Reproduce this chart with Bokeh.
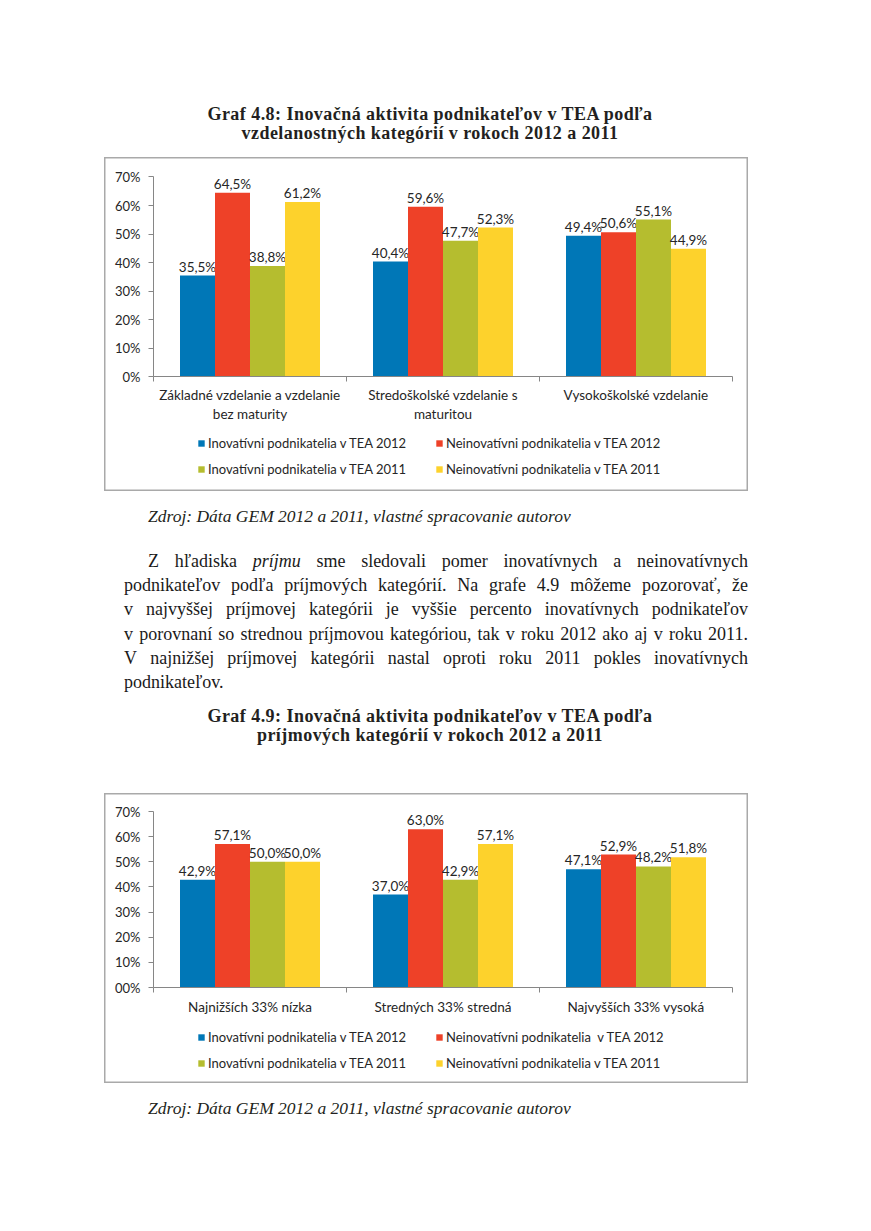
from bokeh.plotting import figure
from bokeh.models import (Range1d, LinearAxis, FixedTicker, Legend, LegendItem,
                          ColumnDataSource, Div)
from bokeh.layouts import column
from bokeh.embed import file_html
from bokeh.resources import INLINE
from bokeh.core.properties import value

# ---------------- data ----------------
series_names_1 = ["Inovatívni podnikatelia v TEA 2012",
                  "Neinovatívni podnikatelia v TEA 2012",
                  "Inovatívni podnikatelia v TEA 2011",
                  "Neinovatívni podnikatelia v TEA 2011"]
series_names_2 = ["Inovatívni podnikatelia v TEA 2012",
                  "Neinovatívni podnikatelia  v TEA 2012",
                  "Inovatívni podnikatelia v TEA 2011",
                  "Neinovatívni podnikatelia v TEA 2011"]
series_colors = ["#0077b7", "#ee4128", "#b5bd2f", "#fdd22c"]

edu_categories = ["Základné vzdelanie a vzdelanie\nbez maturity",
                  "Stredoškolské vzdelanie s\nmaturitou",
                  "Vysokoškolské vzdelanie"]
edu_inov_2012 = [35.5, 40.4, 49.4]
edu_neinov_2012 = [64.5, 59.6, 50.6]
edu_inov_2011 = [38.8, 47.7, 55.1]
edu_neinov_2011 = [61.2, 52.3, 44.9]

inc_categories = ["Najnižších 33% nízka", "Stredných 33% stredná", "Najvyšších 33% vysoká"]
inc_inov_2012 = [42.9, 37.0, 47.1]
inc_neinov_2012 = [57.1, 63.0, 52.9]
inc_inov_2011 = [50.0, 42.9, 48.2]
inc_neinov_2011 = [50.0, 57.1, 51.8]

y_ticks = [0, 10, 20, 30, 40, 50, 60, 70]
y_tick_labels_1 = ["0%", "10%", "20%", "30%", "40%", "50%", "60%", "70%"]
y_tick_labels_2 = ["00%", "10%", "20%", "30%", "40%", "50%", "60%", "70%"]

title_1 = ["Graf 4.8: Inovačná aktivita podnikateľov v TEA podľa",
           "vzdelanostných kategórií v rokoch 2012 a 2011"]
title_2 = ["Graf 4.9: Inovačná aktivita podnikateľov v TEA podľa",
           "príjmových kategórií v rokoch 2012 a 2011"]
source_text = "Zdroj: Dáta GEM 2012 a 2011, vlastné spracovanie autorov"
paragraph_lines = [
    "Z hľadiska <i>príjmu</i> sme sledovali pomer inovatívnych a neinovatívnych",
    "podnikateľov podľa príjmových kategórií. Na grafe 4.9 môžeme pozorovať, že",
    "v najvyššej príjmovej kategórii je vyššie percento inovatívnych podnikateľov",
    "v porovnaní so strednou príjmovou kategóriou, tak v roku 2012 ako aj v roku 2011.",
    "V najnižšej príjmovej kategórii nastal oproti roku 2011 pokles inovatívnych",
    "podnikateľov.",
]

CHART_FONT = "Lato"
TEXT_COLOR = "#262626"
AXIS_COLOR = "#868686"


def make_chart(cats, series_vals, names, height, y_lo, y_hi, tick_labels,
               legend_bottom, label_standoff):
    W = 644
    cat_px = 193.0
    left_px = 49.0
    right_px = 16.0
    n = len(cats)
    p = figure(width=W, height=height,
               x_range=Range1d(-left_px / cat_px, n + right_px / cat_px),
               y_range=Range1d(y_lo, y_hi),
               x_axis_type=None, y_axis_type=None,
               toolbar_location=None, output_backend="svg",
               min_border=0, outline_line_color="#a9a9a9", outline_line_width=2,
               background_fill_color="white", border_fill_color="white",
               margin=(0, 0, 0, 96))
    bar_w = 35.0 / cat_px
    offsets = [-1.5, -0.5, 0.5, 1.5]
    centers = [i + 0.5 for i in range(n)]
    renderers = []
    for k, (vals, col) in enumerate(zip(series_vals, series_colors)):
        xs = [c + offsets[k] * bar_w for c in centers]
        labels = [("%.1f" % v).replace(".", ",") + "%" for v in vals]
        src = ColumnDataSource(dict(x=xs, top=vals, label=labels))
        r = p.vbar(x="x", top="top", bottom=0, width=bar_w, source=src,
                   fill_color=col, line_color=None)
        p.text(x="x", y="top", text="label", source=src, text_align="center",
               text_baseline="alphabetic", y_offset=-9,
               text_font=value(CHART_FONT), text_font_size="13.5px",
               text_color=TEXT_COLOR)
        renderers.append(r)

    yax = LinearAxis(fixed_location=0,
                     ticker=FixedTicker(ticks=y_ticks, minor_ticks=[]),
                     bounds=(0, 70),
                     major_label_overrides={t: l for t, l in zip(y_ticks, tick_labels)},
                     major_tick_out=5, major_tick_in=0,
                     minor_tick_line_color=None,
                     axis_line_color=AXIS_COLOR, major_tick_line_color=AXIS_COLOR,
                     major_label_standoff=8,
                     major_label_text_font=CHART_FONT,
                     major_label_text_font_size="13px",
                     major_label_text_color=TEXT_COLOR)
    p.add_layout(yax, "left")

    xax = LinearAxis(fixed_location=0,
                     ticker=FixedTicker(ticks=centers, minor_ticks=list(range(n + 1))),
                     bounds=(0, n),
                     major_label_overrides={c: lab for c, lab in zip(centers, cats)},
                     major_tick_out=0, major_tick_in=0, major_tick_line_color=None,
                     minor_tick_out=5, minor_tick_in=0, minor_tick_line_color=AXIS_COLOR,
                     axis_line_color=AXIS_COLOR,
                     major_label_standoff=label_standoff,
                     major_label_text_font=CHART_FONT,
                     major_label_text_font_size="13.5px",
                     major_label_text_line_height=1.2,
                     major_label_text_color=TEXT_COLOR)
    p.add_layout(xax, "below")

    legend = Legend(items=[LegendItem(label=nm, renderers=[r]) for nm, r in zip(names, renderers)],
                    orientation="horizontal", ncols=2,
                    location=(93, legend_bottom),
                    glyph_width=8, glyph_height=8, label_standoff=3,
                    label_width=217, label_height=16, spacing=10,
                    padding=0, margin=0, border_line_color=None,
                    background_fill_alpha=0,
                    label_text_font=CHART_FONT, label_text_font_size="13px",
                    label_text_color=TEXT_COLOR)
    p.add_layout(legend)
    return p


chart1 = make_chart(edu_categories,
                    [edu_inov_2012, edu_neinov_2012, edu_inov_2011, edu_neinov_2011],
                    series_names_1, 334, -40.1, 76.8, y_tick_labels_1, 14, 5)
chart2 = make_chart(inc_categories,
                    [inc_inov_2012, inc_neinov_2012, inc_inov_2011, inc_neinov_2011],
                    series_names_2, 290, -38.2, 77.2, y_tick_labels_2, 12, 6)

SERIF = "'Liberation Serif', 'DejaVu Serif', serif"


def title_html(lines, top, lh):
    return ('<div style="position:absolute;left:0;top:%spx;width:844px;text-align:center;'
            'font-family:%s;font-weight:bold;font-size:18px;letter-spacing:0.45px;'
            'line-height:%spx;color:#231f20;">%s</div>'
            % (top, SERIF, lh, "<br>".join(lines)))


def source_html(top):
    return ('<div style="position:absolute;left:140px;top:%spx;white-space:nowrap;'
            'font-family:%s;font-style:italic;font-size:17.5px;line-height:20px;color:#231f20;">%s</div>'
            % (top, SERIF, source_text))


def paragraph_html(top0, step):
    parts = []
    for i, line in enumerate(paragraph_lines):
        top = top0 + i * step
        left = 140 if i == 0 else 116
        width = 740 - left
        words = line.split(" ")
        if i == len(paragraph_lines) - 1:
            inner = line
            disp = "display:block;"
        else:
            inner = "".join("<span>%s</span>" % w for w in words)
            disp = "display:flex;justify-content:space-between;"
        parts.append('<div style="position:absolute;left:%spx;top:%spx;width:%spx;%s'
                     'white-space:nowrap;font-family:%s;font-size:18px;line-height:24px;color:#1a1a1a;">%s</div>'
                     % (left, top, width, disp, SERIF, inner))
    return "".join(parts)


div1 = Div(width=855, height=149, margin=0,
           text='<div style="position:relative;width:855px;height:149px;">%s</div>'
                % title_html(title_1, 97, 18.5))
div3 = Div(width=855, height=302, margin=0,
           text='<div style="position:relative;width:855px;height:302px;">%s%s%s</div>'
                % (source_html(15), paragraph_html(58, 24.2), title_html(title_2, 216, 19)))
div5 = Div(width=855, height=140, margin=0,
           text='<div style="position:relative;width:855px;height:140px;">%s</div>'
                % source_html(15))

layout = column(div1, chart1, div3, chart2, div5, spacing=0, margin=(8, 0, 0, 8))

with open("out.html", "w", encoding="utf-8") as f:
    f.write(file_html(layout, INLINE))
